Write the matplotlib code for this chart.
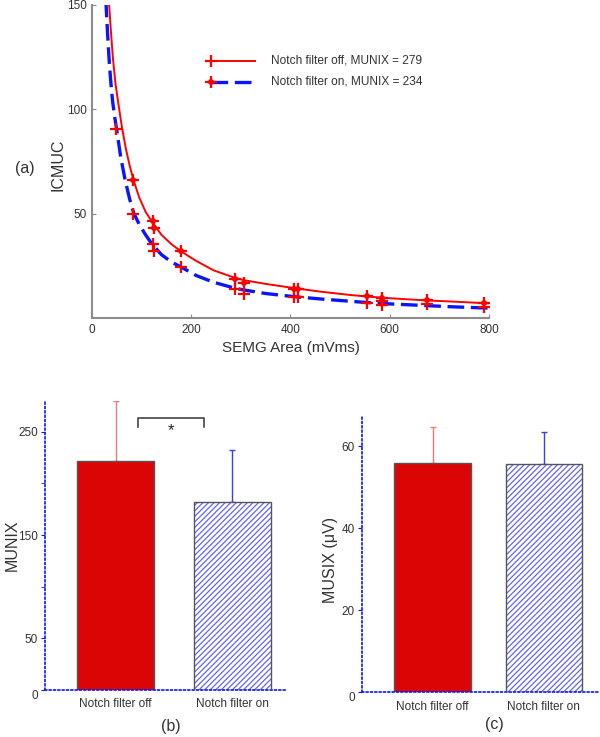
import matplotlib
matplotlib.use("Agg")
import matplotlib.pyplot as plt

plt.rcParams['font.family'] = ['Liberation Sans', 'DejaVu Sans']
plt.rcParams['hatch.linewidth'] = 0.9

# ---- panel (a) data: ICMUC vs SEMG area ----
# fitted curves
red_x = [34, 38, 42, 47, 53, 60, 68, 76, 84, 95, 108, 123, 140, 160, 180, 210, 245,
         287, 306, 350, 407, 460, 520, 553, 585, 630, 675, 730, 790, 800]
red_y = [152, 138, 125, 113, 103, 92, 81.5, 73, 66, 58, 51, 45.5, 40, 35.5, 32, 27.5, 23,
         19.5, 18.3, 16.5, 14.5, 12.8, 11.2, 10.5, 9.9, 9.2, 8.6, 8.0, 7.3, 7.2]
blue_x = [28, 31, 35, 39, 42, 46, 50, 58, 67, 76, 84, 95, 108, 121, 140, 160, 180, 210,
          245, 287, 306, 350, 407, 460, 520, 553, 585, 630, 675, 730, 790, 800]
blue_y = [152, 138, 122, 110, 103, 96, 90, 77, 66, 57, 50.5, 45, 40, 35.5, 30.5, 27, 24.5,
          20.5, 17.3, 14.5, 13.6, 11.9, 10.4, 9.3, 8.2, 7.6, 7.1, 6.6, 6.1, 5.5, 5.0, 4.9]
# measured points
off_x = [48.5, 83.5, 122.6, 124, 180, 287.5, 306, 406.7, 415, 553.5, 585, 675, 789]
off_y = [90.4, 49.9, 35.4, 32.4, 24.5, 14.1, 11.9, 10.4, 10.4, 7.4, 6.3, 6.7, 5.5]
on_x = [83.5, 122.6, 125, 180, 287.5, 306, 406.7, 415, 553.5, 585, 585, 675, 789]
on_y = [66.2, 46.8, 43.1, 32.2, 18.9, 16.7, 14.1, 14.1, 10.6, 9.9, 8.3, 9.0, 7.4]
legend_labels = ['Notch filter off, MUNIX = 279', 'Notch filter on, MUNIX = 234']

# ---- panels (b) and (c) data ----
groups = ['Notch filter off', 'Notch filter on']
munix_mean = [222, 181.5]
munix_err = [58, 51]
musix_mean = [55.8, 55.5]
musix_err = [8.8, 7.8]

RED = '#dc0505'
BLUE = '#0a14ff'
GRAY = '#8c8c8c'
TXT = '#333333'

fig = plt.figure(figsize=(6.0, 7.37), dpi=100)

# ================= (a) =================
ax = fig.add_axes([0.1533, 0.568, 0.6617, 0.4254])
ax.plot(red_x, red_y, color='#ff0000', lw=1.4, zorder=3)
ax.plot(blue_x, blue_y, color=BLUE, lw=2.4, dashes=(5, 2.0), zorder=2)
ax.plot(off_x, off_y, ls='none', marker='+', ms=8, mew=1.6, color='#ff0000', zorder=4)
ax.plot(on_x, on_y, ls='none', marker='+', ms=8, mew=1.6, color='#ff0000', zorder=4)
ax.plot(on_x, on_y, ls='none', marker='D', ms=4.2, mew=0, color='#ff0000', zorder=4)
ax.set_xlim(0, 800)
ax.set_ylim(0, 150)
ax.set_xticks([0, 200, 400, 600, 800])
ax.set_yticks([50, 100, 150])
for s in ['top', 'right']:
    ax.spines[s].set_visible(False)
for s in ['left', 'bottom']:
    ax.spines[s].set_color(GRAY)
    ax.spines[s].set_linewidth(1.5)
ax.tick_params(direction='in', length=3, color=GRAY, labelsize=8.5, labelcolor=TXT, pad=4)
ax.set_xlabel('SEMG Area (mVms)', fontsize=11, color=TXT, labelpad=4)

# manual MATLAB-style legend
lx0, lx1, ltx = 0.301, 0.4106, 0.450
ly = [0.821, 0.755]
ax.plot([lx0, lx1], [ly[0], ly[0]], color='#ff0000', lw=1.4, transform=ax.transAxes)
ax.plot([lx0], [ly[0]], marker='+', ms=8, mew=1.6, color='#ff0000', transform=ax.transAxes)
ax.plot([lx0, lx1], [ly[1], ly[1]], color=BLUE, lw=2.4, dashes=(5, 2.0), transform=ax.transAxes)
ax.plot([lx0], [ly[1]], marker='+', ms=8, mew=1.6, color='#ff0000', transform=ax.transAxes)
ax.plot([lx0], [ly[1]], marker='D', ms=4.2, mew=0, color='#ff0000', transform=ax.transAxes)
for yy, lab in zip(ly, legend_labels):
    ax.text(ltx, yy, lab, transform=ax.transAxes, fontsize=8.6, color=TXT, va='center', ha='left')

fig.text(57.5 / 600, 1 - 165 / 737, 'ICMUC', rotation=90, ha='center', va='center', fontsize=11.5, color=TXT)
fig.text(25 / 600, 1 - 168 / 737, '(a)', ha='center', va='center', fontsize=11.5, color=TXT)


def bar_panel(rect, means, errs, ylim, yticks, minor, xlim, width, ylabel, ylab_xy, tag, tag_xy):
    a = fig.add_axes(rect)
    pos = [1, 2]
    a.bar(pos[0], means[0], width=width, color=RED, edgecolor='#555555', lw=1.0, zorder=2)
    a.bar(pos[1], means[1], width=width, color='white', edgecolor='#6464ff', hatch='//////', lw=0, zorder=2)
    a.bar(pos[1], means[1], width=width, color='none', edgecolor='#555555', lw=1.0, zorder=3)
    a.errorbar(pos[0], means[0], yerr=[[0], [errs[0]]], color='#f07878', lw=1.0, capsize=2.5, zorder=1)
    a.errorbar(pos[1], means[1], yerr=[[0], [errs[1]]], color='#3c3cf0', lw=1.0, capsize=2.5, zorder=1)
    a.set_xlim(*xlim)
    a.set_ylim(*ylim)
    a.set_xticks(pos)
    a.set_xticklabels(groups, fontsize=8.5, color=TXT)
    a.tick_params(axis='x', length=0, pad=6)
    a.set_yticks(yticks)
    a.set_yticklabels([str(t) for t in yticks], fontsize=8.5, color=TXT)
    a.get_yticklabels()[0].set_va('top')
    if minor:
        a.set_yticks(minor, minor=True)
    a.tick_params(axis='y', which='both', direction='out', length=3, color=BLUE, pad=2)
    for s in ['top', 'right']:
        a.spines[s].set_visible(False)
    for s in ['left', 'bottom']:
        a.spines[s].set_color(BLUE)
        a.spines[s].set_linestyle((0, (1, 1.6)))
        a.spines[s].set_linewidth(1.2)
    fig.text(ylab_xy[0] / 600, 1 - ylab_xy[1] / 737, ylabel, rotation=90, ha='center', va='center',
             fontsize=11.5, color=TXT)
    fig.text(tag_xy[0] / 600, 1 - tag_xy[1] / 737, tag, ha='center', va='center', fontsize=11.5, color=TXT)
    return a


# ================= (b) =================
axb = bar_panel([0.075, 0.0638, 0.4033, 0.3925], munix_mean, munix_err, (0, 280),
                [0, 50, 150, 250], [100, 200], (0.395, 2.467), 0.657,
                'MUNIX', (12.5, 545), '(b)', (170.7, 726))
# significance bracket
br_x0, br_x1, br_top, br_leg = 1.188, 1.753, 263, 255
axb.plot([br_x0, br_x0, br_x1, br_x1], [br_leg, br_top, br_top, br_leg], color='#444444', lw=1.2)
axb.text((br_x0 + br_x1) / 2, 251, '*', ha='center', va='center', fontsize=12, color='#222222')

# ================= (c) =================
axc = bar_panel([0.6028, 0.0607, 0.3955, 0.3731], musix_mean, musix_err, (0, 67),
                [0, 20, 40, 60], None, (0.361, 2.495), 0.69,
                'MUSIX (μV)', (330, 560), '(c)', (494, 725))

fig.savefig('out.png', dpi=100)
